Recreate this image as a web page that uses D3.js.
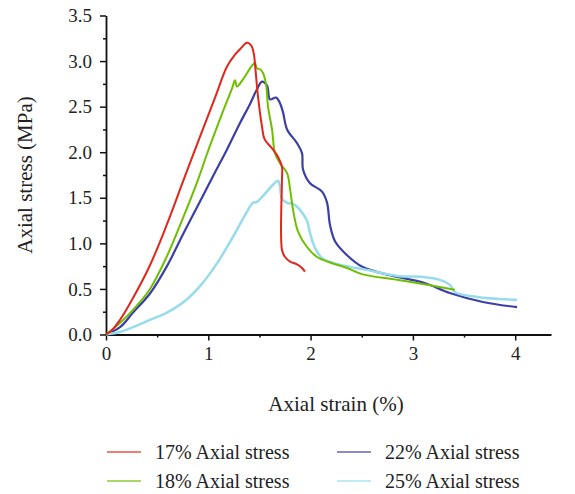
<!DOCTYPE html>
<html>
<head>
<meta charset="utf-8">
<script src="https://cdn.jsdelivr.net/npm/d3@7"></script>
<style>
  body { margin: 0; background: #fff; }
  svg text { font-family: "Liberation Serif", "DejaVu Serif", serif; fill: #222; }
</style>
</head>
<body>
<svg id="chart" width="575" height="494"></svg>
<script>
// strain (%) / stress (MPa) pairs
var red17 = [
  [0, 0], [0.06, 0.05], [0.137, 0.16], [0.264, 0.40], [0.43, 0.76], [0.596, 1.21],
  [0.753, 1.68], [0.919, 2.17], [1.066, 2.60], [1.183, 2.94], [1.261, 3.07],
  [1.31, 3.13], [1.378, 3.20], [1.42, 3.17], [1.445, 3.08], [1.46, 2.92], [1.486, 2.61],
  [1.525, 2.28], [1.548, 2.15], [1.632, 2.03], [1.681, 1.95], [1.72, 1.84],
  [1.72, 1.70], [1.72, 0.93], [1.75, 0.85], [1.80, 0.80], [1.867, 0.77],
  [1.916, 0.73], [1.945, 0.69]
];
var green18 = [
  [0, 0], [0.137, 0.126], [0.264, 0.27], [0.43, 0.50], [0.596, 0.86], [0.753, 1.28],
  [0.90, 1.70], [0.987, 1.98], [1.066, 2.22], [1.144, 2.45], [1.232, 2.70],
  [1.261, 2.79], [1.28, 2.72], [1.339, 2.80], [1.427, 2.95], [1.456, 2.98],
  [1.476, 2.92], [1.505, 2.91], [1.535, 2.87], [1.565, 2.74], [1.584, 2.50],
  [1.623, 2.25], [1.652, 1.99], [1.70, 1.88], [1.77, 1.77], [1.80, 1.59],
  [1.828, 1.37], [1.877, 1.13], [1.965, 0.96], [2.063, 0.85], [2.19, 0.79],
  [2.356, 0.73], [2.51, 0.66], [2.845, 0.60], [3.167, 0.54], [3.41, 0.49]
];
var blue22 = [
  [0, 0], [0.137, 0.08], [0.264, 0.24], [0.43, 0.45], [0.596, 0.75], [0.753, 1.10],
  [0.919, 1.46], [1.066, 1.78], [1.183, 2.03], [1.31, 2.32], [1.408, 2.53],
  [1.476, 2.69], [1.525, 2.775], [1.574, 2.73], [1.603, 2.58], [1.662, 2.60],
  [1.70, 2.54], [1.73, 2.44], [1.77, 2.25], [1.867, 2.10], [1.916, 1.99],
  [1.926, 1.81], [1.994, 1.66], [2.11, 1.57], [2.16, 1.45], [2.19, 1.20],
  [2.24, 1.02], [2.356, 0.87], [2.51, 0.74], [2.776, 0.65], [3.10, 0.57],
  [3.36, 0.456], [3.685, 0.357], [4.018, 0.30]
];
var cyan25 = [
  [0, 0], [0.137, 0.027], [0.264, 0.08], [0.43, 0.16], [0.596, 0.24], [0.753, 0.35],
  [0.919, 0.53], [1.085, 0.78], [1.241, 1.07], [1.359, 1.31], [1.437, 1.445],
  [1.476, 1.456], [1.535, 1.52], [1.632, 1.643], [1.68, 1.687], [1.70, 1.63],
  [1.72, 1.49], [1.77, 1.445], [1.828, 1.434], [1.896, 1.368], [1.965, 1.247],
  [1.994, 1.115], [2.043, 0.95], [2.11, 0.84], [2.219, 0.786], [2.385, 0.742],
  [2.55, 0.709], [2.845, 0.643], [3.10, 0.632], [3.265, 0.60], [3.363, 0.544],
  [3.41, 0.467], [3.627, 0.412], [4.018, 0.38]
];

var seriesNames = ["17% Axial stress", "18% Axial stress", "22% Axial stress", "25% Axial stress"];
var xTicks = [0, 1, 2, 3, 4];
var yTicks = [0, 0.5, 1, 1.5, 2, 2.5, 3, 3.5];

var series = [
  { name: seriesNames[0], data: red17, color: "#e1261c", w: 2 },
  { name: seriesNames[1], data: green18, color: "#6fbf00", w: 2 },
  { name: seriesNames[2], data: blue22, color: "#3c3fa6", w: 2.2 },
  { name: seriesNames[3], data: cyan25, color: "#97dcea", w: 2.5 }
];

var svg = d3.select("#chart");
var x = d3.scaleLinear().domain([0, 4.35]).range([106, 551]);
var y = d3.scaleLinear().domain([0, 3.5]).range([334.5, 15.5]);

// minor ticks first, then major axes
svg.append("g")
  .attr("transform", "translate(0,334.5)")
  .call(d3.axisBottom(x).tickValues([0.5, 1.5, 2.5, 3.5]).tickSize(3).tickFormat(""))
  .call(function(g){ g.select(".domain").remove(); });
svg.append("g")
  .attr("transform", "translate(106,0)")
  .call(d3.axisLeft(y).tickValues(d3.range(0.25, 3.5, 0.5)).tickSize(3).tickFormat(""))
  .call(function(g){ g.select(".domain").remove(); });

var xAxis = svg.append("g")
  .attr("transform", "translate(0,334.5)")
  .call(d3.axisBottom(x).tickValues(xTicks).tickSize(6).tickSizeOuter(0).tickPadding(6).tickFormat(d3.format("d")));
var yAxis = svg.append("g")
  .attr("transform", "translate(106,0)")
  .call(d3.axisLeft(y).tickValues(yTicks).tickSize(6).tickSizeOuter(0).tickPadding(8).tickFormat(d3.format(".1f")));

svg.selectAll(".tick line").attr("stroke", "#111").attr("stroke-width", 1.5);
svg.selectAll(".domain").attr("stroke", "#111").attr("stroke-width", 1.8);
svg.selectAll(".tick text").attr("font-size", 19).attr("font-family", "Liberation Serif").attr("fill", "#222");

svg.append("text")
  .attr("x", 336).attr("y", 411)
  .attr("text-anchor", "middle").attr("font-size", 21)
  .text("Axial strain (%)");
svg.append("text")
  .attr("transform", "translate(32,175) rotate(-90)")
  .attr("text-anchor", "middle").attr("font-size", 21)
  .text("Axial stress (MPa)");

var line = d3.line()
  .curve(d3.curveCatmullRom.alpha(0.5))
  .x(function(d){ return x(d[0]); })
  .y(function(d){ return y(d[1]); });

var drawOrder = [2, 3, 1, 0];
drawOrder.forEach(function(i){
  svg.append("path")
    .datum(series[i].data)
    .attr("fill", "none")
    .attr("stroke", series[i].color)
    .attr("stroke-width", series[i].w)
    .attr("stroke-linejoin", "round")
    .attr("d", line);
});

// legend
var legendPos = [[107, 452], [107, 481], [337, 452], [337, 481]];
series.forEach(function(s, i){
  var p = legendPos[i];
  svg.append("line")
    .attr("x1", p[0]).attr("x2", p[0] + 34)
    .attr("y1", p[1]).attr("y2", p[1])
    .attr("stroke", s.color).attr("stroke-width", 1.5).attr("opacity", 0.8);
  svg.append("text")
    .attr("x", p[0] + 48).attr("y", p[1] + 6.5)
    .attr("font-size", 20)
    .text(s.name);
});
</script>
</body>
</html>
